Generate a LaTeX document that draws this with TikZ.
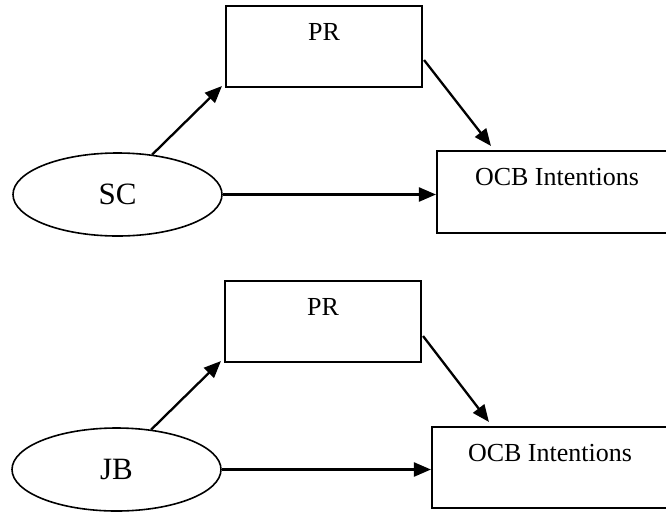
\documentclass[tikz,border=0pt]{standalone}
\usepackage{fontspec}
\setmainfont{Liberation Serif}
\usetikzlibrary{arrows.meta,shapes.geometric,calc}
\begin{document}
\begin{tikzpicture}[x=1pt,y=-1pt,
  box/.style={draw,line width=2.1pt,rectangle,inner sep=0pt},
  oval/.style={draw,line width=1.6pt,ellipse,inner sep=0pt,
    minimum width=209pt,minimum height=83pt,font=\fontsize{31}{36}\selectfont},
  lbl/.style={anchor=base,inner sep=0pt,font=\fontsize{26}{30}\selectfont},
  link/.style={line width=2.3pt,-{Triangle[length=17pt,width=14pt]}}]
\useasboundingbox (0,0) rectangle (666,512);

% upper model: SC -> PR -> OCB Intentions
\node[box,minimum width=196pt,minimum height=81pt] (pr1) at (324,46.5) {};
\node[lbl] (pr1t) at ($(pr1.north)+(0,36)$) {PR};
\node[box,minimum width=240pt,minimum height=82pt] (ocb1) at (557,192) {};
\node[lbl] (ocb1t) at ($(ocb1.north)+(0,36)$) {OCB Intentions};
\node[oval] (sc) at (117.5,194.5) {SC};

\draw[link] (sc.49) -- ($(pr1.south west)+(-3,-2)$);
\draw[link] ($(pr1.south east)+(1,-28)$) -- ($(ocb1.north west)+(55,-4)$);
\draw[link] (sc.east) -- (sc.east -| ocb1.west);

% lower model: JB -> PR -> OCB Intentions
\node[box,minimum width=196pt,minimum height=81pt] (pr2) at (323,321.5) {};
\node[lbl] (pr2t) at ($(pr2.north)+(0,36)$) {PR};
\node[box,minimum width=236pt,minimum height=81pt] (ocb2) at (550,467.5) {};
\node[lbl] (ocb2t) at ($(ocb2.north)+(0,36)$) {OCB Intentions};
\node[oval] (jb) at (116.5,469.5) {JB};

\draw[link] (jb.49) -- ($(pr2.south west)+(-3,-2)$);
\draw[link] ($(pr2.south east)+(1,-27)$) -- ($(ocb2.north west)+(58,-4)$);
\draw[link] (jb.east) -- (jb.east -| ocb2.west);
\end{tikzpicture}
\end{document}
